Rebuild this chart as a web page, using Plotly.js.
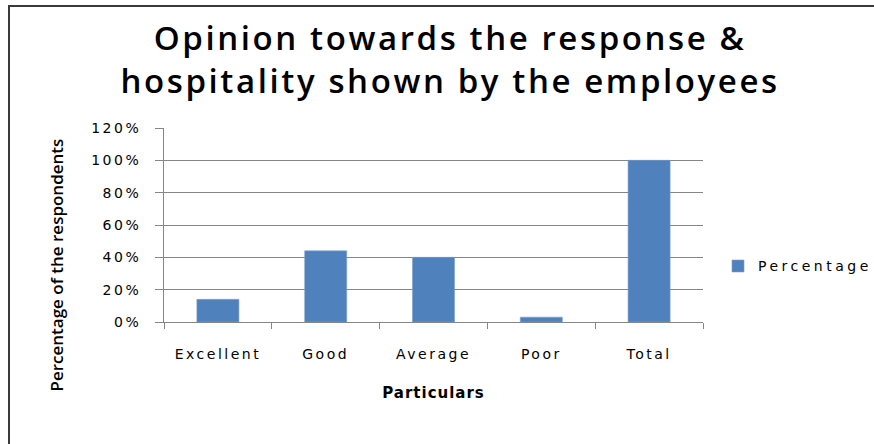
<!DOCTYPE html>
<html>
<head>
<meta charset="utf-8">
<script src="https://cdn.plot.ly/plotly-3.0.1.min.js"></script>
<style>
  html, body { margin: 0; padding: 0; background: #fff; overflow: hidden; }
  #chart { position: absolute; left: 0; top: 0; width: 874px; height: 444px; }
  #frame { position: absolute; left: 8px; top: 5px; width: 900px; height: 500px;
           border: 2px solid #3a3a3a; pointer-events: none; }
  .xtick text, .ytick text { letter-spacing: 2.5px; }
  .legendtext { letter-spacing: 3.5px; }
  .g-xtitle text { letter-spacing: 1px; }
  .gtitle { letter-spacing: 2.6px; }
</style>
</head>
<body>
<div id="chart"></div>
<div id="frame"></div>
<script>
const categories = ["Excellent", "Good", "Average", "Poor", "Total"];
const percentage = [0.14, 0.44, 0.40, 0.03, 1.00];
const seriesName = "Percentage";
const yTicks = [0, 0.2, 0.4, 0.6, 0.8, 1.0, 1.2];
const yTickLabels = ["0%", "20%", "40%", "60%", "80%", "100%", "120%"];

const trace = {
  type: "bar",
  x: categories,
  y: percentage,
  name: seriesName,
  marker: { color: "#4F81BD", line: { color: "#7DA0CE", width: 0.6 } },
  hoverinfo: "x+y"
};

const layout = {
  width: 874,
  height: 444,
  margin: { l: 164, r: 171, t: 128, b: 122 },
  paper_bgcolor: "#ffffff",
  plot_bgcolor: "#ffffff",
  showlegend: true,
  bargap: 0.61,
  title: {
    text: "Opinion towards the response &<br>hospitality shown by the employees",
    font: { family: "Open Sans", size: 33, color: "#000000", weight: 600 },
    x: 0.515, xanchor: "center",
    y: 0.888, yanchor: "middle"
  },
  xaxis: {
    type: "category",
    showline: true, linecolor: "#868686", linewidth: 1,
    ticks: "outside", tickson: "boundaries", ticklen: 6, tickcolor: "#868686",
    showgrid: false,
    tickfont: { family: "DejaVu Sans", size: 14, color: "#000000" },
    ticklabelstandoff: 19,
    title: {
      text: "<b>Particulars</b>",
      font: { family: "DejaVu Sans", size: 15, color: "#000000" },
      standoff: 26
    }
  },
  yaxis: {
    range: [0, 1.2],
    tickvals: yTicks,
    ticktext: yTickLabels,
    showline: true, linecolor: "#868686", linewidth: 1,
    ticks: "outside", ticklen: 8, tickcolor: "#868686",
    showgrid: true, gridcolor: "#868686", gridwidth: 1,
    zeroline: false,
    tickfont: { family: "DejaVu Sans", size: 14, color: "#000000" },
    ticklabelstandoff: 11
  },
  legend: {
    xref: "container", yref: "container",
    x: 0.8215, xanchor: "left",
    y: 0.40, yanchor: "middle",
    font: { family: "DejaVu Sans", size: 14, color: "#000000" },
    bgcolor: "rgba(0,0,0,0)"
  },
  annotations: [{
    text: "Percentage of the respondents",
    textangle: -90,
    xref: "paper", yref: "paper",
    x: -0.199, y: 0.295,
    xanchor: "center", yanchor: "middle",
    showarrow: false,
    font: { family: "Open Sans", size: 17, color: "#000000", weight: 600 }
  }]
};

Plotly.newPlot("chart", [trace], layout, { displayModeBar: false, staticPlot: true });
</script>
</body>
</html>
